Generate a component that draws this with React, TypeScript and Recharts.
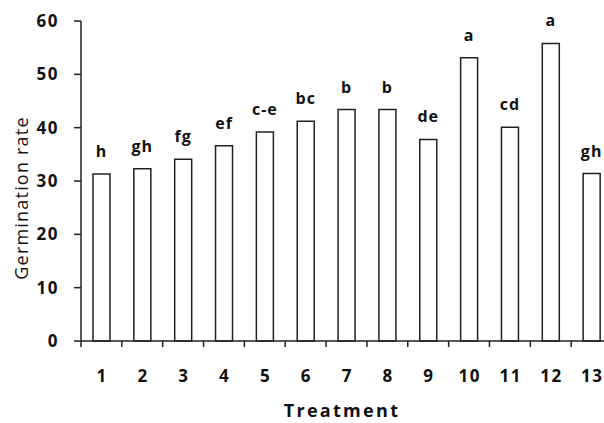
import React from 'react'
import { BarChart, Bar, XAxis, YAxis, LabelList, Label } from 'recharts'

const treatments = ['1', '2', '3', '4', '5', '6', '7', '8', '9', '10', '11', '12', '13']
const germinationRate = [31.3, 32.3, 34.1, 36.6, 39.2, 41.2, 43.4, 43.4, 37.8, 53.1, 40.1, 55.8, 31.4]
const groupLetters = ['h', 'gh', 'fg', 'ef', 'c-e', 'bc', 'b', 'b', 'de', 'a', 'cd', 'a', 'gh']
const yTicks = [0, 10, 20, 30, 40, 50, 60]

const data = treatments.map((t, i) => ({
  treatment: t,
  rate: germinationRate[i],
  group: groupLetters[i],
}))

const FONT = '"Open Sans", sans-serif'
const INK = '#222'

function TreatmentTick(props: any) {
  const { x, y, payload } = props
  const half = payload.offset || 20.4
  return (
    <g>
      <line x1={x - half} y1={y} x2={x - half} y2={y + 6} stroke={INK} strokeWidth={1.5} />
      <text
        x={x + 0.75}
        y={y + 34}
        textAnchor="middle"
        dominantBaseline="central"
        fontFamily={FONT}
        fontWeight={700}
        fontSize={17}
        letterSpacing={1.5}
        fill="#111"
      >
        {payload.value}
      </text>
    </g>
  )
}

export default function App() {
  return (
    <div
      style={{
        position: 'absolute',
        left: 0,
        top: 0,
        width: 604,
        height: 423,
        overflow: 'hidden',
        background: '#fff',
      }}
    >
      <BarChart
        width={630}
        height={423}
        data={data}
        margin={{ top: 21, right: 18, bottom: 22, left: 0 }}
        barSize={17}
      >
        <XAxis
          dataKey="treatment"
          height={60}
          tickSize={0}
          tickMargin={0}
          tickLine={false}
          axisLine={{ stroke: INK, strokeWidth: 1.5 }}
          tick={<TreatmentTick />}
          interval={0}
        >
          <Label
            content={() => (
              <text
                x={342}
                y={417}
                textAnchor="middle"
                fontFamily={FONT}
                fontWeight={700}
                fontSize={18}
                letterSpacing={2.3}
                fill="#111"
              >
                Treatment
              </text>
            )}
          />
        </XAxis>
        <YAxis
          width={81}
          domain={[0, 60]}
          ticks={yTicks}
          interval={0}
          tickSize={7}
          tickMargin={15}
          axisLine={{ stroke: INK, strokeWidth: 1.5 }}
          tickLine={{ stroke: INK, strokeWidth: 1.5 }}
          tick={{ fontFamily: FONT, fontWeight: 700, fontSize: 17, fill: '#111', letterSpacing: 1.5 }}
        >
          <Label
            content={() => (
              <text
                transform="translate(21,198) rotate(-90)"
                textAnchor="middle"
                dominantBaseline="central"
                fontFamily={FONT}
                fontSize={18}
                letterSpacing={1.2}
                fill="#111"
              >
                Germination rate
              </text>
            )}
          />
        </YAxis>
        <Bar dataKey="rate" fill="#fff" stroke={INK} strokeWidth={1.5} isAnimationActive={false}>
          <LabelList
            dataKey="group"
            position="top"
            offset={17}
            style={{ fontFamily: FONT, fontWeight: 700, fontSize: 16, fill: '#111', letterSpacing: 1 }}
          />
        </Bar>
      </BarChart>
    </div>
  )
}
